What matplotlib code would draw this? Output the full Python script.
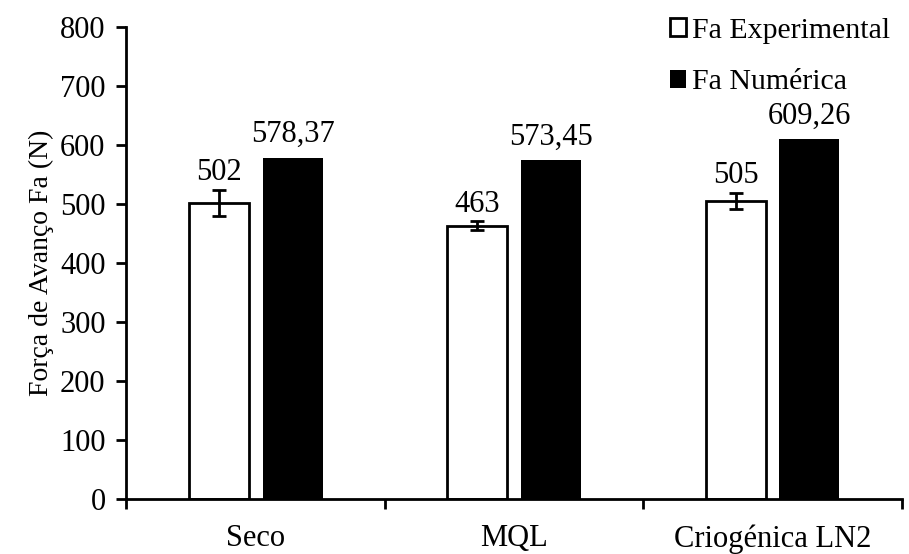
import numpy as np
import matplotlib.pyplot as plt

plt.rcParams['font.family'] = ['Liberation Serif', 'DejaVu Serif']

categories = ['Seco', 'MQL', 'Criogénica LN2']
fa_exp = [502, 463, 505]
fa_exp_err = [22, 8, 14]
fa_num = [578.37, 573.45, 609.26]
exp_labels = ['502', '463', '505']
num_labels = ['578,37', '573,45', '609,26']

fig = plt.figure(figsize=(9.09, 5.54), dpi=100)
ax = fig.add_axes([0.139, 0.099, 0.853, 0.853])

x = np.arange(len(categories))
w = 0.232
off = 0.143

ax.bar(x - off, fa_exp, w, color='white', edgecolor='black', linewidth=2,
       label='Fa Experimental', zorder=2)
ax.bar(x + off, fa_num, w, color='black', edgecolor='black', linewidth=0,
       label='Fa Numérica', zorder=2)
ax.errorbar(x - off, fa_exp, yerr=fa_exp_err, fmt='none', ecolor='black',
            elinewidth=2, capsize=5, capthick=2, zorder=3)

for xi, v, e, t in zip(x, fa_exp, fa_exp_err, exp_labels):
    ax.text(xi - off, v + e + 4, t, ha='center', va='bottom', fontsize=22)
for xi, v, t in zip(x, fa_num, num_labels):
    ax.text(xi + off, v + 14, t, ha='center', va='bottom', fontsize=22)

ax.set_xlim(-0.5, 2.5)
ax.set_ylim(0, 800)
ax.set_yticks(range(0, 801, 100))
ax.set_xticks(x)
ax.set_xticklabels(categories, fontsize=22)
ax.set_xticks([-0.5, 0.5, 1.5, 2.5], minor=True)
ax.tick_params(axis='x', which='major', length=0, pad=18)
ax.tick_params(axis='x', which='minor', length=7, width=2, direction='out')
ax.tick_params(axis='y', labelsize=22, length=7, width=2, direction='out', pad=8)
ax.set_ylabel('Força de Avanço Fa (N)', fontsize=20)

for s in ['top', 'right']:
    ax.spines[s].set_visible(False)
for s in ['left', 'bottom']:
    ax.spines[s].set_linewidth(2)

ax.legend(loc='upper right', bbox_to_anchor=(1.02, 1.075), frameon=False,
          fontsize=21.5, handlelength=0.55, handleheight=0.55, handletextpad=0.2,
          labelspacing=0.85)

fig.savefig('out.png', dpi=100)
